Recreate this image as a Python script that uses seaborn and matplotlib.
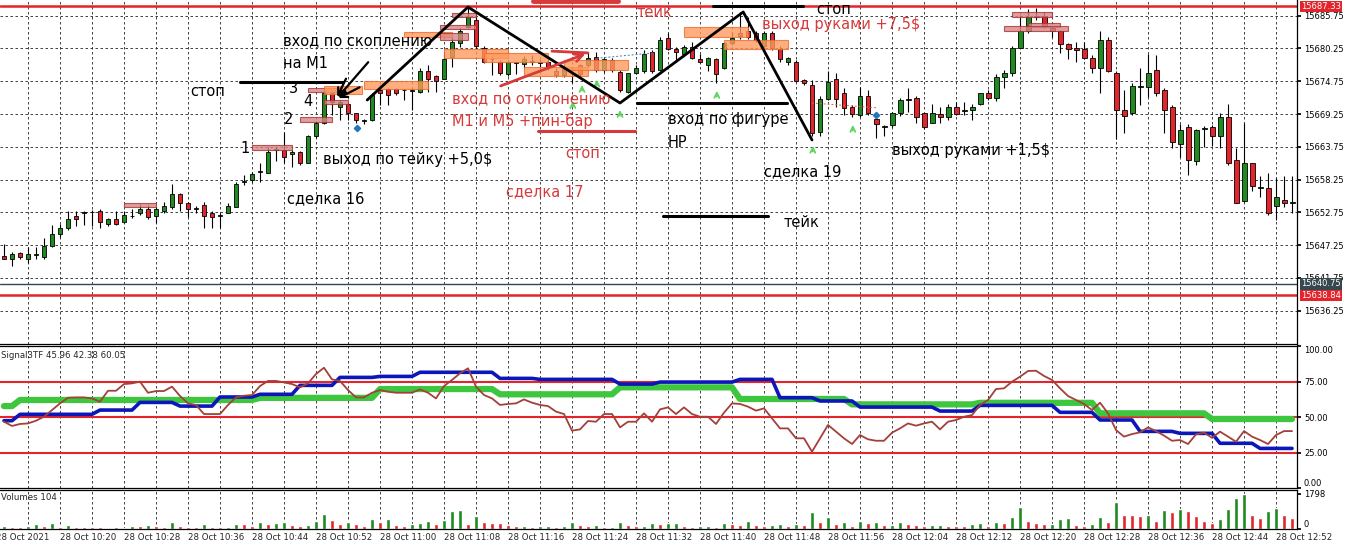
import numpy as np
import pandas as pd
import matplotlib
matplotlib.use("Agg")
import matplotlib.pyplot as plt
import matplotlib.transforms as mtransforms
from matplotlib.patches import Rectangle
import seaborn as sns

# ---------------  Data (M1 bars 10:13 .. 12:54)  ------------
opens = [15645.4, 15645.0, 15646.0, 15645.0, 15645.6, 15645.3, 15647.1, 15649.2, 15650.1, 15652.1,
         15652.7, 15652.8, 15652.9, 15650.8, 15651.7, 15651.2, 15652.1, 15652.7, 15653.4, 15652.1,
         15652.9, 15653.7, 15655.8, 15654.3, 15653.4, 15654.0, 15652.6, 15652.2, 15652.7, 15653.7,
         15657.9, 15658.2, 15659.5, 15659.4, 15663.3, 15663.3, 15662.5, 15662.8, 15661.0, 15665.6,
         15667.7, 15672.8, 15670.4, 15670.9, 15669.4, 15668.1, 15668.2, 15673.2, 15673.4, 15673.4,
         15673.2, 15673.2, 15673.0, 15676.5, 15675.6, 15675.2, 15678.9, 15681.2, 15683.9, 15685.1,
         15680.4, 15678.4, 15678.0, 15676.0, 15677.8, 15677.7, 15678.0, 15677.8, 15678.0, 15676.5,
         15675.8, 15676.9, 15677.4, 15677.5, 15678.9, 15676.6, 15678.3, 15676.3, 15673.0, 15676.1,
         15676.4, 15679.7, 15676.6, 15682.0, 15680.1, 15679.4, 15680.5, 15678.4, 15677.5, 15678.4,
         15676.9, 15681.2, 15682.8, 15683.1, 15682.8, 15680.6, 15682.8, 15680.1, 15678.0, 15678.0,
         15675.0, 15674.1, 15666.3, 15671.7, 15675.2, 15672.7, 15670.4, 15669.1, 15672.3, 15668.5,
         15667.1, 15667.4, 15669.4, 15671.7, 15671.9, 15669.4, 15667.8, 15669.2, 15668.8, 15670.4,
         15669.8, 15669.9, 15670.9, 15672.7, 15671.9, 15675.4, 15676.1, 15680.4, 15683.1, 15685.6,
         15685.7, 15683.6, 15683.2, 15681.0, 15680.4, 15680.1, 15678.6, 15676.9, 15681.6, 15676.1,
         15669.9, 15669.4, 15673.8, 15673.8, 15676.6, 15673.3, 15670.4, 15664.2, 15667.0, 15661.4,
         15666.8, 15667.0, 15665.5, 15668.7, 15661.5, 15654.7, 15661.1, 15656.9, 15656.9, 15653.9,
         15654.9, 15654.4]
highs = [15647.5, 15646.1, 15646.1, 15647.0, 15647.0, 15648.4, 15650.6, 15650.8, 15653.0, 15652.9,
         15652.9, 15653.1, 15653.3, 15651.8, 15652.9, 15652.9, 15653.4, 15654.1, 15654.0, 15653.7,
         15654.5, 15657.5, 15656.0, 15654.5, 15653.8, 15654.5, 15652.9, 15652.6, 15654.3, 15657.9,
         15659.0, 15659.6, 15661.0, 15663.8, 15663.8, 15666.3, 15663.3, 15663.0, 15665.7, 15668.0,
         15673.0, 15673.3, 15671.6, 15671.0, 15669.4, 15668.5, 15672.7, 15673.7, 15673.7, 15673.7,
         15673.4, 15673.7, 15676.9, 15677.5, 15675.8, 15679.4, 15682.2, 15683.6, 15687.0, 15686.1,
         15680.6, 15679.2, 15678.3, 15678.3, 15677.9, 15679.0, 15679.2, 15678.4, 15678.3, 15676.9,
         15677.1, 15677.2, 15677.7, 15679.5, 15679.7, 15678.6, 15678.6, 15676.6, 15676.2, 15677.5,
         15680.0, 15680.0, 15682.2, 15682.8, 15680.5, 15680.8, 15681.4, 15679.4, 15678.9, 15678.6,
         15681.4, 15683.0, 15686.3, 15685.5, 15683.1, 15683.1, 15683.1, 15680.6, 15678.9, 15678.3,
         15675.2, 15674.9, 15672.2, 15676.4, 15676.1, 15673.6, 15670.8, 15673.8, 15673.3, 15668.8,
         15667.4, 15669.6, 15672.0, 15673.7, 15672.2, 15669.5, 15670.9, 15670.4, 15671.0, 15671.3,
         15671.3, 15670.9, 15672.8, 15673.2, 15676.0, 15676.6, 15680.7, 15685.9, 15686.8, 15687.0,
         15686.4, 15683.9, 15683.3, 15681.2, 15681.4, 15681.4, 15679.2, 15683.2, 15682.1, 15676.4,
         15673.3, 15674.5, 15676.9, 15679.3, 15679.2, 15673.6, 15670.8, 15667.6, 15667.6, 15666.7,
         15667.2, 15667.4, 15669.4, 15670.9, 15663.5, 15667.8, 15661.1, 15658.8, 15659.4, 15658.5,
         15658.9, 15658.9]
lows = [15644.9, 15643.8, 15645.0, 15644.2, 15644.9, 15645.0, 15647.0, 15648.6, 15649.8, 15650.5,
        15650.6, 15650.5, 15650.1, 15650.5, 15650.6, 15651.0, 15651.8, 15652.3, 15651.6, 15650.9,
        15652.6, 15653.4, 15652.9, 15652.0, 15652.6, 15650.2, 15650.2, 15650.2, 15652.6, 15653.6,
        15657.3, 15657.9, 15657.9, 15659.3, 15661.3, 15661.0, 15660.4, 15660.7, 15661.0, 15665.3,
        15667.6, 15669.1, 15668.3, 15668.2, 15667.8, 15667.6, 15668.1, 15670.8, 15670.8, 15672.4,
        15671.6, 15669.9, 15672.8, 15673.0, 15673.0, 15675.1, 15677.2, 15680.5, 15683.6, 15680.3,
        15677.8, 15675.8, 15675.8, 15675.6, 15676.0, 15677.0, 15677.5, 15676.8, 15676.6, 15675.5,
        15675.4, 15674.5, 15675.5, 15677.2, 15676.3, 15676.3, 15676.3, 15673.0, 15672.8, 15676.0,
        15676.2, 15676.2, 15676.4, 15680.0, 15678.0, 15679.1, 15678.4, 15677.8, 15676.4, 15674.4,
        15676.8, 15680.9, 15681.9, 15681.8, 15681.4, 15680.3, 15680.0, 15678.0, 15677.5, 15674.7,
        15674.1, 15665.5, 15665.5, 15671.6, 15670.5, 15669.1, 15668.8, 15668.8, 15669.1, 15665.2,
        15665.5, 15667.1, 15669.0, 15669.6, 15667.8, 15666.7, 15667.7, 15667.7, 15668.2, 15669.1,
        15669.1, 15668.3, 15670.8, 15671.6, 15671.5, 15673.7, 15675.6, 15680.3, 15682.8, 15685.0,
        15683.6, 15682.2, 15679.5, 15678.4, 15678.0, 15678.4, 15676.1, 15672.8, 15676.3, 15665.0,
        15666.1, 15669.1, 15670.8, 15672.1, 15672.2, 15666.0, 15663.5, 15662.0, 15659.0, 15660.7,
        15663.8, 15663.9, 15663.5, 15660.7, 15654.3, 15654.5, 15656.4, 15655.4, 15652.3, 15651.5,
        15653.7, 15652.7]
closes = [15645.0, 15645.7, 15645.3, 15645.7, 15645.7, 15647.1, 15649.2, 15650.2, 15651.7, 15651.7,
          15652.8, 15652.75, 15651.2, 15651.6, 15650.8, 15652.3, 15652.2, 15653.4, 15652.0, 15653.3,
          15653.8, 15655.8, 15654.3, 15653.3, 15653.4, 15652.1, 15652.0, 15652.2, 15653.8, 15657.5,
          15657.9, 15659.2, 15659.5, 15662.9, 15663.3, 15662.0, 15662.9, 15661.0, 15665.6, 15667.7,
          15672.7, 15671.3, 15671.3, 15669.4, 15668.3, 15668.1, 15672.4, 15672.8, 15672.4, 15672.7,
          15673.2, 15673.1, 15676.5, 15675.2, 15674.8, 15678.4, 15681.4, 15683.1, 15685.5, 15680.6,
          15678.0, 15678.4, 15676.1, 15678.0, 15677.8, 15678.4, 15678.0, 15678.0, 15677.2, 15675.8,
          15676.9, 15676.6, 15676.0, 15678.6, 15676.6, 15678.4, 15676.6, 15673.2, 15676.1, 15676.9,
          15679.4, 15676.4, 15681.7, 15680.1, 15679.7, 15680.5, 15678.6, 15677.9, 15678.6, 15676.0,
          15681.2, 15682.0, 15682.3, 15682.2, 15681.7, 15682.8, 15680.3, 15678.4, 15678.6, 15674.8,
          15674.5, 15666.0, 15671.7, 15674.7, 15671.7, 15670.2, 15669.3, 15672.2, 15669.4, 15667.6,
          15667.1, 15669.4, 15671.6, 15671.6, 15668.8, 15667.1, 15669.4, 15668.7, 15670.4, 15669.2,
          15669.8, 15670.4, 15672.7, 15671.9, 15675.4, 15676.1, 15680.4, 15683.1, 15685.5, 15685.6,
          15683.8, 15683.1, 15681.0, 15680.1, 15680.0, 15678.6, 15676.9, 15681.7, 15676.5, 15669.9,
          15668.9, 15673.9, 15673.8, 15676.1, 15672.8, 15669.9, 15664.6, 15666.6, 15661.6, 15666.6,
          15666.8, 15665.5, 15668.7, 15661.0, 15654.4, 15661.0, 15657.2, 15656.9, 15652.7, 15655.3,
          15654.4, 15654.4]
volumes = [154, 120, 120, 154, 256, 154, 325, 120, 205, 120, 120, 120, 120, 68, 120, 68, 154, 150, 205, 154,
           120, 376, 154, 120, 120, 256, 120, 120, 125, 256, 250, 154, 376, 256, 325, 376, 205, 154, 205, 428,
           770, 462, 256, 376, 256, 154, 530, 376, 530, 205, 154, 256, 325, 428, 256, 462, 940, 960, 256, 667,
           376, 325, 320, 205, 154, 160, 120, 130, 154, 120, 154, 376, 205, 154, 205, 120, 125, 376, 205, 154,
           160, 325, 256, 325, 330, 154, 120, 154, 160, 120, 325, 256, 205, 428, 205, 154, 205, 256, 154, 256,
           205, 889, 376, 598, 256, 376, 154, 428, 325, 359, 205, 210, 376, 256, 205, 154, 205, 210, 154, 150,
           145, 256, 325, 154, 376, 325, 598, 1146, 428, 325, 256, 260, 496, 547, 205, 154, 256, 633, 376, 1402,
           718, 710, 667, 718, 428, 975, 889, 1026, 940, 667, 428, 325, 496, 1026, 1607, 1795, 718, 547, 940, 1094,
           718, 547]
brown_line = [46.7, 43.7, 45.1, 45.5, 47.4, 50.2, 54.9, 59.6, 63.6, 63.8, 63.8, 63.1, 60.8, 68.5, 68.5, 73.2,
              73.7, 74.9, 67.1, 68.3, 68.3, 71.4, 64.8, 59.6, 58.5, 52.1, 52.1, 52.1, 58.5, 63.8, 65.0, 65.5,
              71.8, 75.4, 75.4, 74.4, 73.2, 70.9, 73.7, 80.3, 84.7, 76.5, 75.4, 69.0, 63.8, 63.8, 67.1, 69.0,
              67.8, 67.1, 67.1, 67.1, 69.5, 67.1, 63.1, 71.8, 76.1, 80.8, 84.3, 71.4, 65.5, 63.1, 58.5, 59.2,
              59.6, 62.4, 60.1, 58.5, 57.7, 53.8, 52.1, 40.4, 41.3, 47.2, 46.7, 52.1, 52.1, 42.7, 46.7, 46.7,
              52.6, 46.7, 55.4, 56.8, 52.1, 56.8, 52.1, 50.2, 50.2, 45.1, 53.1, 59.6, 59.2, 57.3, 54.5, 56.1,
              49.1, 42.0, 42.0, 35.0, 35.0, 25.6, 35.0, 44.4, 39.7, 35.0, 31.0, 37.3, 34.3, 33.3, 33.3, 39.0,
              42.0, 45.5, 43.9, 45.5, 46.7, 41.3, 46.7, 47.9, 50.2, 51.4, 58.5, 62.0, 69.7, 70.2, 74.9, 78.4,
              82.4, 82.6, 78.9, 76.1, 70.2, 64.8, 62.0, 59.2, 54.9, 60.1, 52.6, 40.8, 36.2, 38.0, 39.2, 42.7,
              40.1, 36.9, 33.3, 33.8, 31.0, 37.8, 39.0, 35.4, 39.7, 36.2, 32.6, 40.1, 36.2, 33.8, 31.0, 37.3,
              40.1, 40.1]
# step lines of the indicator: level and number of bars it holds
green_levels = [57.7, 62.0, 63.5, 69.7, 66.0, 70.9, 62.7, 58.9, 60.0, 52.6, 48.6]
green_lengths = [2, 30, 15, 15, 15, 15, 14, 16, 15, 14, 11]
blue_levels = [47.4, 51.9, 54.9, 60.3, 57.7, 64.1, 66.0, 72.3, 77.9, 78.6, 81.5, 77.2, 76.5, 73.2,
               74.6, 76.5, 63.6, 61.3, 57.0, 54.2, 58.2, 53.3, 47.9, 39.9, 38.5, 31.5, 27.9]
blue_lengths = [2, 10, 5, 5, 5, 5, 5, 5, 5, 5, 10, 5, 10, 5, 10, 5, 5, 5, 10, 5, 10, 5, 5, 5, 5, 5, 5]

price_ticks = [15685.75, 15680.25, 15674.75, 15669.25, 15663.75, 15658.25, 15652.75, 15647.25, 15641.75, 15636.25]
time_labels = ['28 Oct 2021', '28 Oct 10:20', '28 Oct 10:28', '28 Oct 10:36', '28 Oct 10:44', '28 Oct 10:52',
               '28 Oct 11:00', '28 Oct 11:08', '28 Oct 11:16', '28 Oct 11:24', '28 Oct 11:32', '28 Oct 11:40',
               '28 Oct 11:48', '28 Oct 11:56', '28 Oct 12:04', '28 Oct 12:12', '28 Oct 12:20', '28 Oct 12:28',
               '28 Oct 12:36', '28 Oct 12:44', '28 Oct 12:52']
label_bars = list(range(-1, 160, 8))

# volume clusters drawn on the chart: bar from, bar to, low, high, kind
boxes = [(15, 19, 15653.6, 15654.3, 'p'), (31, 36, 15663.2, 15664.0, 'p'), (37, 41, 15667.9, 15668.7, 'p'),
         (38, 42, 15672.9, 15673.6, 'p'), (40, 44.75, 15672.6, 15673.9, 'o'), (40, 43, 15670.9, 15671.6, 'p'),
         (45, 53, 15673.4, 15674.8, 'o'), (50, 56, 15682.2, 15683.0, 'o'), (56, 59, 15685.5, 15686.2, 'p'),
         (54.5, 59, 15683.5, 15684.2, 'p'), (54.5, 58, 15681.7, 15682.8, 'p'), (55, 63, 15678.6, 15680.2, 'o'),
         (60, 68, 15678.0, 15679.5, 'o'), (65, 73, 15675.6, 15677.1, 'o'), (70, 78, 15676.6, 15678.3, 'o'),
         (85, 93, 15682.2, 15683.8, 'o'), (90, 98, 15680.2, 15681.7, 'o'), (126, 131, 15685.5, 15686.4, 'p'),
         (128, 132, 15683.8, 15684.5, 'p'), (125, 133, 15683.2, 15684.0, 'p')]

bars = np.arange(len(opens))
df = pd.DataFrame({'bar': bars, 'open': opens, 'high': highs, 'low': lows, 'close': closes,
                   'volume': volumes, 'brown': brown_line,
                   'green': np.repeat(green_levels, green_lengths),
                   'blue': np.repeat(blue_levels, blue_lengths)})

GREEN = '#1f8a1f'
RED = '#e3242b'
LRED = '#d63a3a'

sns.set_theme(style='white')
plt.rcParams['font.family'] = ['DejaVu Sans']

fig = plt.figure(figsize=(13.59, 5.58), dpi=100)
ax_p = fig.add_axes([0, 0.3835, 0.9544, 0.6165])
ax_i = fig.add_axes([0, 0.1254, 0.9544, 0.2545], sharex=ax_p)
ax_v = fig.add_axes([0, 0.052, 0.9544, 0.0699], sharex=ax_p)

grid_bars = np.arange(3, 162, 4)
for ax in (ax_p, ax_i, ax_v):
    ax.set_facecolor('white')
    for b in grid_bars:
        ax.axvline(b, color='#222222', lw=0.6, ls=(0, (3, 3)), zorder=0)
    for s in ax.spines.values():
        s.set_color('black')
        s.set_linewidth(0.9)
    ax.spines['left'].set_visible(False)
    ax.yaxis.tick_right()
    ax.tick_params(axis='y', direction='out', length=3, pad=2, labelsize=6, colors='black',
                   right=True, left=False, labelright=True, labelleft=False)
    ax.tick_params(axis='x', bottom=False, labelbottom=False)
ax_p.spines['top'].set_visible(False)
ax_p.set_xlim(-0.5, 161.625)

# ---------------  Price panel  ------------
ax_p.set_ylim(15630.67, 15688.38)
ax_p.set_yticks(price_ticks)
ax_p.set_yticklabels([f'{t:.2f}' for t in price_ticks])
for t in price_ticks:
    ax_p.axhline(t, color='#222222', lw=0.6, ls=(0, (3, 3)), zorder=0)

ax_p.axhline(15687.33, color=RED, lw=1.8, zorder=1)
ax_p.axhline(15638.84, color=RED, lw=1.8, zorder=1)
ax_p.axhline(15640.75, color='#37474f', lw=1.0, zorder=1)

up = df['close'] >= df['open']
ax_p.vlines(df['bar'], df['low'], df['high'], color='black', lw=0.8, zorder=2)
body = (df['close'] - df['open']).abs().clip(lower=0.12)
ax_p.bar(df['bar'], body, bottom=df[['open', 'close']].min(axis=1), width=0.62,
         color=np.where(up, GREEN, RED), edgecolor='black', linewidth=0.6, zorder=3)

for b0, b1, lo, hi, kind in boxes:
    fc, ec = ('#d98585', '#a83232') if kind == 'p' else ('#ff9a60', '#f06a2a')
    ax_p.add_patch(Rectangle((b0, lo), b1 - b0, hi - lo, facecolor=fc, edgecolor=ec,
                             lw=0.8, alpha=0.8, zorder=4))

# hand-drawn marks of the trader
ax_p.plot([45.4, 58, 77, 92.4, 101], [15671.6, 15687.2, 15671.1, 15686.37, 15664.9],
          color='black', lw=2, zorder=6)
black_lines = [((29.5, 42.4), 15674.62), ((79.1, 97.9), 15671.1), ((82.4, 95.5), 15652.14),
               ((88.6, 99.9), 15687.37)]
for (b0, b1), p in black_lines:
    ax_p.plot([b0, b1], [p, p], color='black', lw=2.2, zorder=6)
ax_p.plot([66.75, 78.9], [15666.4, 15666.4], color=LRED, lw=2.2, zorder=6)
ax_p.plot([66.1, 76.75], [15688.2, 15688.2], color=LRED, lw=3.5, zorder=6)
for start in [(45.75, 15678.3), (44.75, 15673.95), (42.9, 15675.6)]:
    ax_p.annotate('', xy=(41.5, 15671.7), xytext=start,
                  arrowprops=dict(arrowstyle='->', color='black', lw=1.6), zorder=6)
ax_p.annotate('', xy=(73, 15679.5), xytext=(61.75, 15673.8),
              arrowprops=dict(arrowstyle='->', color=LRED, lw=2, mutation_scale=14), zorder=6)
ax_p.plot([68.5, 73], [15679.8, 15679.5], color=LRED, lw=2, zorder=6)
ax_p.plot([74.1, 81.1], [15678.6, 15679.5], color='#3a7fb0', lw=0.7, ls=(0, (2, 2)), zorder=5)
ax_p.plot([101, 109], [15671.1, 15670.3], color='#e06a2a', lw=0.7, ls=(0, (2, 2)), zorder=5)

for b, p in [(71.1, 15671.9), (72.25, 15674.6), (74.1, 15675.5), (77, 15670.4),
             (89.1, 15673.6), (101.1, 15664.4), (106.1, 15667.9)]:
    ax_p.annotate('', xy=(b, p), xytext=(b, p - 1.9),
                  arrowprops=dict(arrowstyle='->', color='#5fd65f', lw=1.3, mutation_scale=9), zorder=5)
ax_p.plot([44.1, 109], [15666.9, 15669.1], ls='none', marker='D', ms=3.2, color='#2277bb', zorder=5)

notes = [('вход по скоплению', 34.9, 15681.5, 'black'), ('на М1', 34.9, 15677.8, 'black'),
         ('стоп', 23.25, 15673.1, 'black'), ('3', 35.6, 15673.45, 'black'), ('4', 37.4, 15671.27, 'black'),
         ('2', 35.0, 15668.4, 'black'), ('1', 29.5, 15663.55, 'black'),
         ('выход по тейку +5,0$', 39.9, 15661.7, 'black'), ('сделка 16', 35.4, 15655.0, 'black'),
         ('вход по отклонению', 56, 15671.9, LRED), ('М1 и М5 +пин-бар', 56, 15668.1, LRED),
         ('стоп', 70.1, 15662.7, LRED), ('сделка 17', 62.75, 15656.3, LRED), ('тейк', 79.1, 15686.2, LRED),
         ('выход руками +7,5$', 94.75, 15684.2, LRED), ('вход по фигуре', 83, 15668.4, 'black'),
         ('НР', 83, 15664.55, 'black'), ('сделка 19', 95, 15659.5, 'black'), ('тейк', 97.5, 15651.0, 'black'),
         ('стоп', 101.5, 15686.75, 'black'), ('выход руками +1,5$', 111, 15663.2, 'black')]
for txt, b, p, c in notes:
    ax_p.text(b, p, txt, color=c, fontsize=10.5, ha='left', va='center', zorder=7)

trans = mtransforms.blended_transform_factory(ax_p.transAxes, ax_p.transData)
for p, fc in [(15687.33, RED), (15640.75, '#37474f'), (15638.84, RED)]:
    ax_p.text(1.003, p, f'{p:.2f}', transform=trans, color='white', fontsize=6, ha='left', va='center',
              clip_on=False, zorder=10,
              bbox=dict(boxstyle='square,pad=0.15', facecolor=fc, edgecolor='none'))

# ---------------  Indicator panel  ------------
ax_i.set_ylim(0, 100)
ax_i.set_yticks([0, 25, 50, 75, 100])
ax_i.set_yticklabels(['0.00', '25.00', '50.00', '75.00', '100.00'])
ilabels = ax_i.get_yticklabels()
ilabels[0].set_va('bottom')
ilabels[-1].set_va('top')
for lvl in (25, 50, 75):
    ax_i.axhline(lvl, color=RED, lw=1.5, zorder=1)
sns.lineplot(data=df, x='bar', y='green', ax=ax_i, color='#3ec63e', lw=4.5, zorder=2)
sns.lineplot(data=df, x='bar', y='blue', ax=ax_i, color='#0b17b8', lw=2.6, zorder=3)
sns.lineplot(data=df, x='bar', y='brown', ax=ax_i, color='#a3403a', lw=1.3, zorder=4)
ax_i.set_xlabel('')
ax_i.set_ylabel('')
ax_i.text(0.001, 0.93, 'Signal3TF 45.96 42.38 60.05', transform=ax_i.transAxes, fontsize=6.2,
          ha='left', va='center')

# ---------------  Volume panel  ------------
vol_up = df['volume'] > df['volume'].shift(1).fillna(0)
ax_v.bar(df['bar'], df['volume'], width=0.55, color=np.where(vol_up, GREEN, RED), zorder=2)
ax_v.set_ylim(0, 2000)
ax_v.set_yticks([0, 1798])
ax_v.set_yticklabels(['0', '1798'])
ax_v.get_yticklabels()[0].set_va('bottom')
ax_v.text(0.001, 0.82, 'Volumes 104', transform=ax_v.transAxes, fontsize=6.2, ha='left', va='center')
ax_v.set_xlabel('')
ax_v.set_ylabel('')

ttrans = mtransforms.blended_transform_factory(ax_v.transData, ax_v.transAxes)
for b, lab in zip(label_bars, time_labels):
    ax_v.text(b, -0.22, lab, transform=ttrans, fontsize=6.2, ha='left', va='center', clip_on=False)

fig.savefig('out.png', dpi=100, facecolor='white')
